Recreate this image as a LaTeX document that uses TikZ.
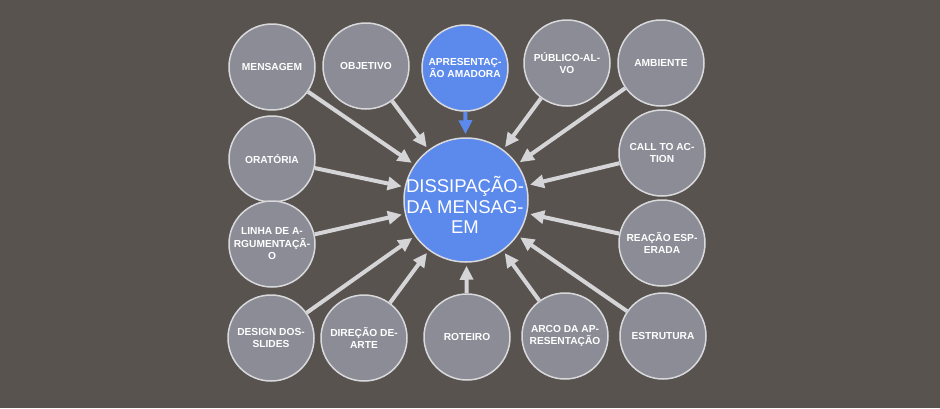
\documentclass[tikz,border=0pt]{standalone}
\usepackage{fontspec}
\setmainfont{Liberation Sans}
\usepackage{tikz}
\usetikzlibrary{arrows.meta}
\definecolor{backdrop}{HTML}{58534F}
\definecolor{topicgray}{HTML}{8B8C96}
\definecolor{ringgray}{HTML}{D9D9DC}
\definecolor{topicblue}{HTML}{5B89EC}
\definecolor{arrowgray}{HTML}{D5D5D8}

\tikzset{
  topic/.style={circle, draw=ringgray, line width=1.5pt, fill=topicgray,
    minimum size=86pt, inner sep=0pt, align=center, text=white,
    font=\fontsize{10.2}{12.5}\selectfont\bfseries},
  hot/.style={topic, fill=topicblue},
  core/.style={topic, fill=topicblue, minimum size=124pt},
  coretext/.style={inner sep=0pt, align=center, text=white,
    font=\fontsize{18.5}{20.5}\selectfont},
  flow/.style={draw=arrowgray, line width=4pt,
    -{Triangle[length=14pt,width=13pt]}, shorten >=3pt},
  hotflow/.style={flow, draw=topicblue}
}

\begin{document}
\begin{tikzpicture}[x=1pt, y=-1pt]

      \fill [backdrop] (0, 0) rectangle (940, 408);
      \useasboundingbox (0, 0) rectangle (940, 408);

      \node [core] at (466, 200) (dissipacao) {};
      \node [coretext] at (465, 205) (dissipacaolabel) {DISSIPAÇÃO-\\DA MENSAG-\\EM};

      \node [topic] at (272, 67) (mensagem) {MENSAGEM};
      \node [topic] at (366, 66) (objetivo) {OBJETIVO};
      \node [hot] at (465, 68) (apresentacao) {APRESENTAÇ-\\ÃO AMADORA};
      \node [topic] at (567, 63) (publico) {PÚBLICO-AL-\\VO};
      \node [topic] at (661, 63) (ambiente) {AMBIENTE};
      \node [topic] at (272, 159) (oratoria) {ORATÓRIA};
      \node [topic] at (662, 153) (calltoaction) {CALL TO AC-\\TION};
      \node [topic] at (272, 244) (linha) {LINHA DE A-\\RGUMENTAÇÃ-\\O};
      \node [topic] at (662, 243) (reacao) {REAÇÃO ESP-\\ERADA};
      \node [topic] at (271, 338) (design) {DESIGN DOS-\\SLIDES};
      \node [topic] at (364, 338) (direcao) {DIREÇÃO DE-\\ARTE};
      \node [topic] at (467, 337) (roteiro) {ROTEIRO};
      \node [topic] at (565, 336) (arco) {ARCO DA AP-\\RESENTAÇÃO};
      \node [topic] at (663, 336) (estrutura) {ESTRUTURA};

      \draw [hotflow] (apresentacao) -- (dissipacao);
      \draw [flow] (mensagem) -- (dissipacao);
      \draw [flow] (objetivo) -- (dissipacao);
      \draw [flow] (publico) -- (dissipacao);
      \draw [flow] (ambiente) -- (dissipacao);
      \draw [flow] (oratoria) -- (dissipacao);
      \draw [flow] (calltoaction) -- (dissipacao);
      \draw [flow] (linha) -- (dissipacao);
      \draw [flow] (reacao) -- (dissipacao);
      \draw [flow] (design) -- (dissipacao);
      \draw [flow] (direcao) -- (dissipacao);
      \draw [flow] (roteiro) -- (dissipacao);
      \draw [flow] (arco) -- (dissipacao);
      \draw [flow] (estrutura) -- (dissipacao);
    \end{tikzpicture}
\end{document}
